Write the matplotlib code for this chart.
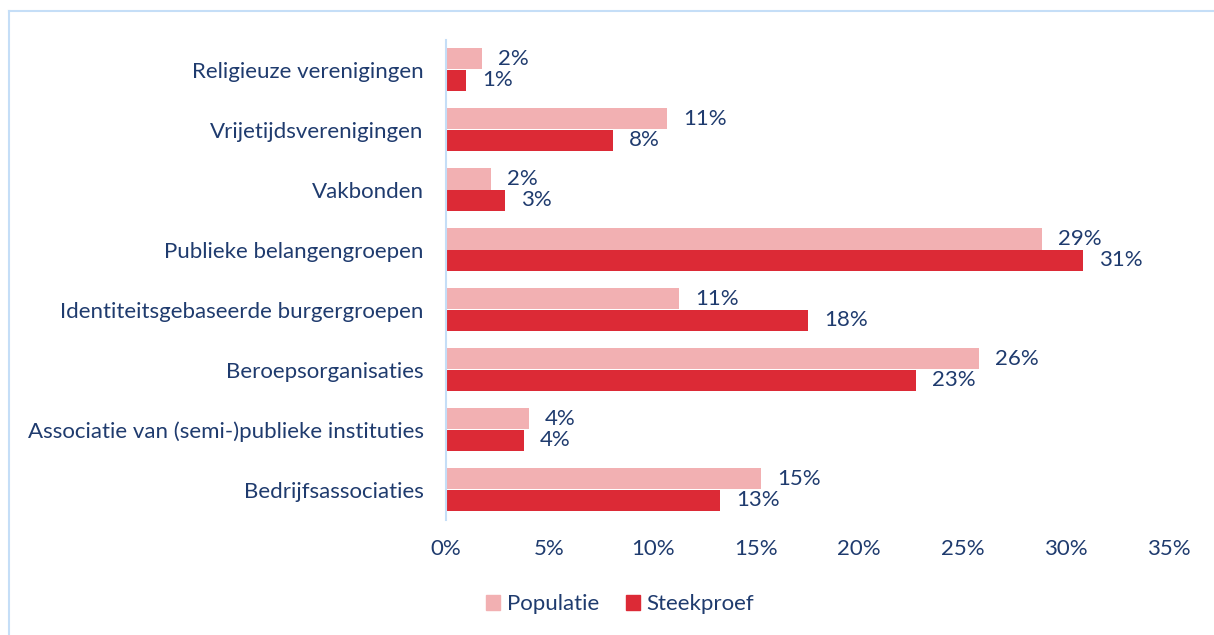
import matplotlib
matplotlib.use("Agg")
import matplotlib.pyplot as plt
from matplotlib.lines import Line2D
from matplotlib.patches import Patch

categories = [
    "Religieuze verenigingen",
    "Vrijetijdsverenigingen",
    "Vakbonden",
    "Publieke belangengroepen",
    "Identiteitsgebaseerde burgergroepen",
    "Beroepsorganisaties",
    "Associatie van (semi-)publieke instituties",
    "Bedrijfsassociaties",
]
populatie = [1.76, 10.70, 2.18, 28.86, 11.29, 25.80, 4.03, 15.25]
steekproef = [0.97, 8.07, 2.86, 30.82, 17.54, 22.75, 3.79, 13.26]
xticks = [0, 5, 10, 15, 20, 25, 30, 35]
series_names = ["Populatie", "Steekproef"]

C_POP = "#F2B0B2"
C_STK = "#DC2A36"
TXT = "#1F3B6E"
FRAME = "#C5DEF7"

plt.rcParams["font.family"] = ["Lato", "DejaVu Sans"]

W, H = 1214, 635
fig = plt.figure(figsize=(W / 100, H / 100), dpi=100)
ax = fig.add_axes([446 / W, 1 - 519.5 / H, (1169 - 446) / W, 480 / H])

bh = 0.358
ys = list(range(len(categories)))
ax.barh([y - bh / 2 for y in ys], populatie, height=bh, color=C_POP, label=series_names[0])
ax.barh([y + bh / 2 for y in ys], steekproef, height=bh, color=C_STK, label=series_names[1])

fs = 16
for y, p, s in zip(ys, populatie, steekproef):
    ax.annotate(f"{round(p):.0f}%", (p, y - bh / 2), xytext=(11.5, 0), textcoords="offset points",
                va="center", ha="left", color=TXT, fontsize=fs)
    ax.annotate(f"{round(s):.0f}%", (s, y + bh / 2), xytext=(11.5, 0), textcoords="offset points",
                va="center", ha="left", color=TXT, fontsize=fs)

ax.set_xlim(0, 35)
ax.set_ylim(len(categories) - 0.5, -0.5)
ax.set_yticks(ys)
ax.set_yticklabels(categories, color=TXT, fontsize=fs)
ax.set_xticks(xticks)
ax.set_xticklabels([f"{t}%" for t in xticks], color=TXT, fontsize=fs)
ax.tick_params(axis="both", length=0)
ax.tick_params(axis="y", pad=16)
ax.tick_params(axis="x", pad=14)
for sp in ["top", "right", "bottom"]:
    ax.spines[sp].set_visible(False)
ax.spines["left"].set_color(FRAME)
ax.spines["left"].set_linewidth(1.5)

handles = [Patch(color=C_POP), Patch(color=C_STK)]
fig.legend(handles, series_names, loc="center", bbox_to_anchor=(620 / W, 1 - 604 / H), ncol=2,
           frameon=False, fontsize=fs, labelcolor=TXT, handlelength=0.65, handleheight=0.65,
           handletextpad=0.3, columnspacing=1.2)

# outer frame lines (top and left)
fig.add_artist(Line2D([9 / W, 1], [1 - 10.5 / H, 1 - 10.5 / H], color=FRAME, lw=1.5, transform=fig.transFigure))
fig.add_artist(Line2D([9 / W, 9 / W], [0, 1 - 10.5 / H], color=FRAME, lw=1.5, transform=fig.transFigure))

fig.savefig("out.png", dpi=100)
